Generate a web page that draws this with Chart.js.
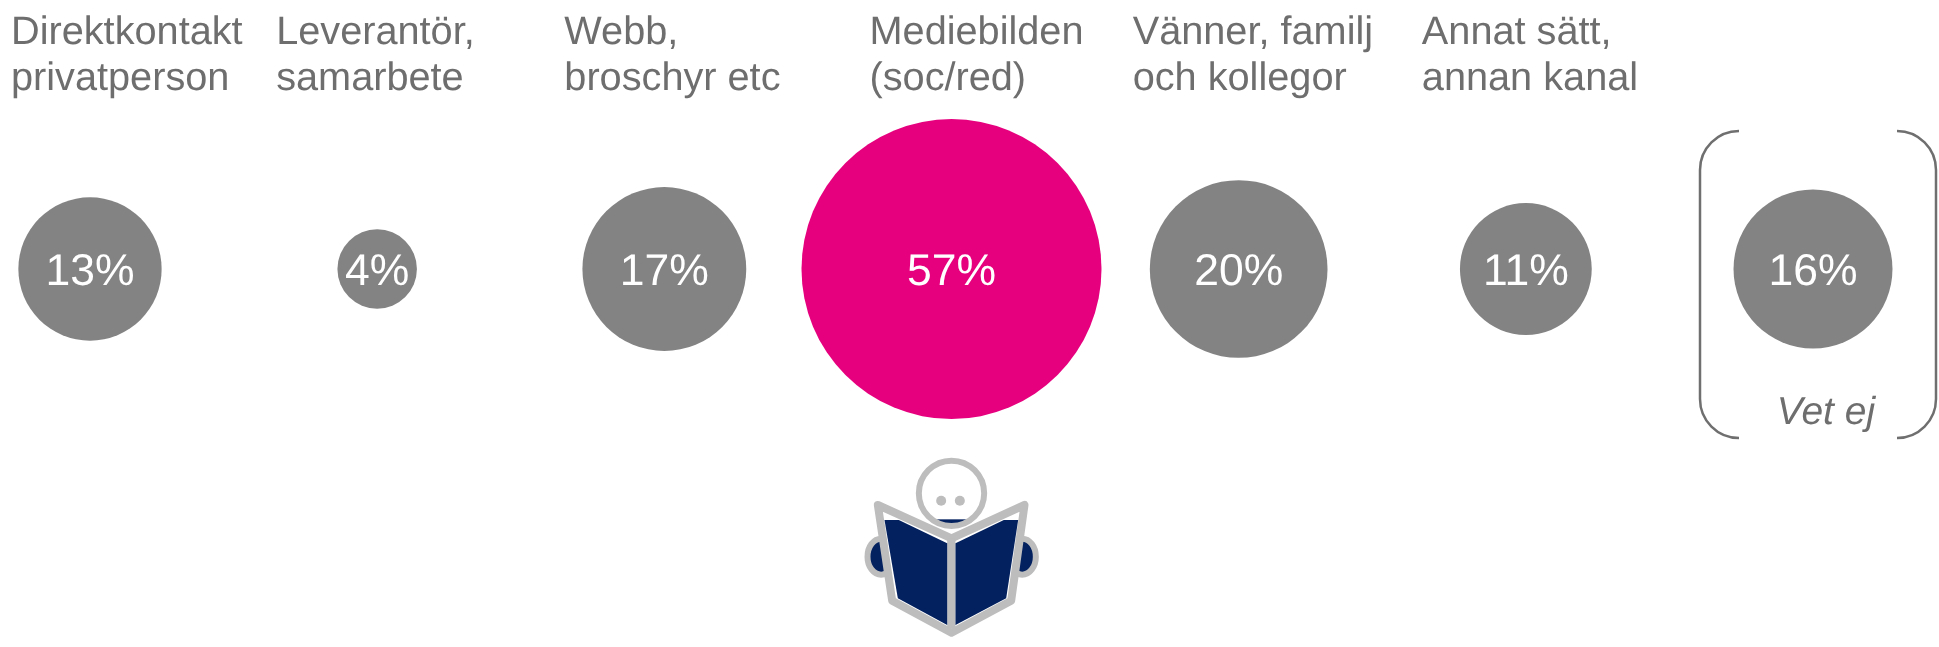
<!DOCTYPE html>
<html lang="sv">
<head>
<meta charset="utf-8">
<style>html,body{margin:0;padding:0;background:#fff;overflow:hidden}canvas{display:block}</style>
<script src="https://cdn.jsdelivr.net/npm/chart.js@4"></script>
</head>
<body>
<div style="width:1939px;height:647px;position:relative"><canvas id="c" width="1939" height="647"></canvas></div>
<script>
const categories = [
  ["Direktkontakt","privatperson"],
  ["Leverantör,","samarbete"],
  ["Webb,","broschyr etc"],
  ["Mediebilden","(soc/red)"],
  ["Vänner, familj","och kollegor"],
  ["Annat sätt,","annan kanal"],
  ["Vet ej"]
];
const values = [13,4,17,57,20,11,16];
const barColors = ["#838383","#838383","#838383","#E6007E","#838383","#838383","#838383"];

// layout only
const labelOffset = [-79,-101,-100,-82,-106,-104];
const areaK = 19.87;
const textGray = "#6e6e6e";

const annotate = {
  id:"annotate",
  afterDatasetsDraw(chart){
    const {ctx,scales:{x,y}} = chart;
    const cy = y.getPixelForValue(0);
    ctx.save();
    ctx.textRendering="geometricPrecision";
    // values inside bubbles
    ctx.fillStyle="#fff";
    ctx.font="44.5px 'Liberation Sans'";
    ctx.textAlign="center";ctx.textBaseline="alphabetic";
    values.forEach((v,i)=>ctx.fillText(v+"%",x.getPixelForValue(i),cy+16));
    // headers
    ctx.fillStyle=textGray;ctx.textAlign="left";
    ctx.font="39.7px 'Liberation Sans'";
    labelOffset.forEach((o,i)=>{
      categories[i].forEach((t,l)=>ctx.fillText(t,x.getPixelForValue(i)+o,44+l*46));
    });
    // bracket around "Vet ej"
    const bx=x.getPixelForValue(6);
    ctx.strokeStyle="#6f6f6f";ctx.lineWidth=2.5;
    const L=bx-113,R=bx+123,T=131,B=438,r=39;
    ctx.beginPath();ctx.moveTo(L+r,T);ctx.arcTo(L,T,L,T+r,r);ctx.lineTo(L,B-r);ctx.arcTo(L,B,L+r,B,r);ctx.stroke();
    ctx.beginPath();ctx.moveTo(R-r,T);ctx.arcTo(R,T,R,T+r,r);ctx.lineTo(R,B-r);ctx.arcTo(R,B,R-r,B,r);ctx.stroke();
    ctx.font="italic 39px 'Liberation Sans'";ctx.textAlign="center";ctx.fillStyle=textGray;
    ctx.fillText(categories[6][0],bx+13,424);
    // reader icon
    const gray="#bdbdbd",navy="#03215f";
    ctx.translate(x.getPixelForValue(3)-111,440);ctx.scale(1/3,1/3);
    ctx.lineWidth=18;ctx.strokeStyle=gray;ctx.fillStyle=navy;
    [122,545].forEach(ax=>{ctx.beginPath();ctx.ellipse(ax,350,41,54,0,0,Math.PI*2);ctx.fill();ctx.stroke();});
    ctx.fillStyle="#fff";ctx.beginPath();ctx.arc(333,160,98,0,Math.PI*2);ctx.fill();
    ctx.save();ctx.beginPath();ctx.arc(333,160,92,0,Math.PI*2);ctx.clip();ctx.fillStyle=navy;ctx.fillRect(230,238,210,30);ctx.restore();
    ctx.beginPath();ctx.arc(333,160,98,0,Math.PI*2);ctx.stroke();
    ctx.fillStyle=gray;[302,358].forEach(ex=>{ctx.beginPath();ctx.arc(ex,182,15,0,Math.PI*2);ctx.fill();});
    const poly=(p)=>{ctx.beginPath();p.forEach((q,i)=>i?ctx.lineTo(q[0],q[1]):ctx.moveTo(q[0],q[1]));ctx.closePath();};
    ctx.lineJoin="round";ctx.lineWidth=24;
    poly([[112,195],[333,295],[552,195],[512,482],[333,578],[155,482]]);ctx.fillStyle="#fff";ctx.fill();ctx.stroke();
    ctx.fillStyle=gray;ctx.fillRect(320,295,25,270);
    ctx.fillStyle=navy;
    poly([[132,240],[175,240],[320,310],[320,555],[172,475]]);ctx.fill();
    poly([[345,310],[490,240],[533,240],[497,475],[345,555]]);ctx.fill();
    ctx.restore();
  }
};

new Chart(document.getElementById("c"),{
  type:"bubble",
  data:{
    labels:categories.map(c=>c.join(" ")),
    datasets:[{
      data:values.map((v,i)=>({x:i,y:0,v})),
      backgroundColor:barColors,
      borderWidth:0,
      hoverBorderWidth:0,
      radius:ctx=>areaK*Math.sqrt(values[ctx.dataIndex]),
      clip:false
    }]
  },
  options:{
    responsive:false,animation:false,
    layout:{autoPadding:false,padding:{left:90,right:126,top:0,bottom:0}},
    plugins:{legend:{display:false},tooltip:{enabled:false}},
    scales:{
      x:{type:"linear",min:0,max:6,display:false},
      y:{type:"linear",min:-1,max:0.7117,display:false}
    }
  },
  plugins:[annotate]
});
</script>
</body>
</html>
